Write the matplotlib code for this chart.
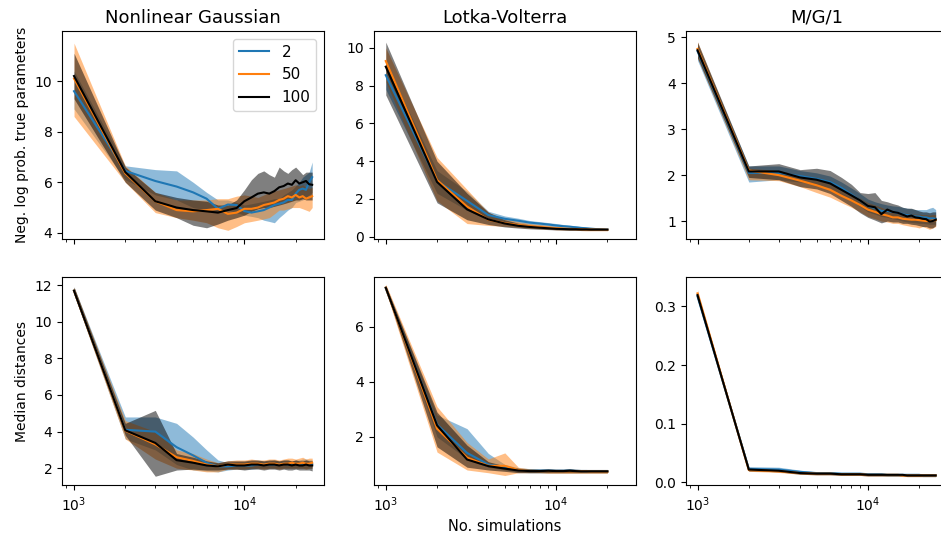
import numpy as np
import matplotlib
matplotlib.use('Agg')
import matplotlib.pyplot as plt

# number of simulations on the x axis
sims = list(range(1000, 26000, 1000))
sims_lv = list(range(1000, 21000, 1000))

labels = ['2', '50', '100']
colors = ['tab:blue', 'tab:orange', 'black']

# Nonlinear Gaussian, neg. log prob
ng_nlp_2 = [9.6, 6.45, 6.05, 5.83, 5.6, 5.35, 4.95, 5.12, 5.1, 4.86, 4.8, 4.85, 4.9, 5.0, 5.1, 5.15, 5.2, 5.3, 5.3, 5.55, 5.7, 5.75, 5.7, 6.0, 6.2]
ng_nlp_2_lo = [8.9, 6.1, 5.5, 5.3, 5.0, 4.9, 4.8, 4.9, 4.8, 4.7, 4.65, 4.6, 4.5, 4.45, 4.4, 4.6, 4.75, 4.9, 5.0, 5.2, 5.25, 5.3, 5.4, 5.5, 5.6]
ng_nlp_2_hi = [10.4, 6.65, 6.5, 6.45, 6.0, 5.6, 5.3, 5.3, 5.2, 5.1, 5.15, 5.2, 5.25, 5.3, 5.35, 5.35, 5.5, 5.6, 5.7, 5.85, 6.0, 6.2, 6.3, 6.4, 6.8]
ng_nlp_50 = [10.1, 6.35, 5.25, 4.9, 4.85, 4.9, 4.95, 4.75, 4.8, 4.95, 4.95, 5.0, 5.1, 5.15, 5.2, 5.3, 5.35, 5.45, 5.4, 5.5, 5.4, 5.45, 5.35, 5.4, 5.45]
ng_nlp_50_lo = [8.6, 6.0, 4.8, 4.6, 4.5, 4.4, 4.2, 4.1, 4.25, 4.4, 4.45, 4.5, 4.55, 4.6, 4.75, 4.9, 4.9, 4.95, 5.0, 5.0, 5.0, 4.95, 4.9, 4.85, 5.0]
ng_nlp_50_hi = [11.5, 6.65, 5.6, 5.3, 5.3, 5.3, 5.35, 5.35, 5.45, 5.5, 5.45, 5.4, 5.5, 5.6, 5.65, 5.7, 5.75, 5.8, 5.85, 5.9, 5.85, 5.9, 5.8, 5.75, 5.8]
ng_nlp_100 = [10.2, 6.4, 5.25, 5.0, 4.9, 4.85, 4.8, 4.9, 4.98, 5.25, 5.4, 5.55, 5.6, 5.55, 5.65, 5.8, 5.85, 5.95, 5.9, 6.08, 5.95, 6.0, 6.05, 5.92, 5.9]
ng_nlp_100_lo = [9.3, 6.0, 4.9, 4.6, 4.3, 4.2, 4.35, 4.5, 4.6, 4.7, 4.85, 4.95, 5.0, 5.0, 5.05, 5.1, 5.15, 5.2, 5.25, 5.3, 5.3, 5.35, 5.3, 5.3, 5.3]
ng_nlp_100_hi = [11.1, 6.6, 5.6, 5.4, 5.3, 5.25, 5.1, 5.1, 5.3, 5.7, 6.1, 6.35, 6.45, 6.3, 6.2, 6.6, 6.45, 6.35, 6.5, 6.6, 6.45, 6.3, 6.4, 6.4, 6.4]

# Lotka-Volterra, neg. log prob
lv_nlp_2 = [8.55, 2.95, 1.9, 1.15, 0.95, 0.85, 0.75, 0.7, 0.65, 0.6, 0.56, 0.53, 0.5, 0.47, 0.45, 0.43, 0.41, 0.4, 0.39, 0.38]
lv_nlp_2_lo = [7.8, 2.3, 1.4, 0.9, 0.8, 0.72, 0.65, 0.6, 0.56, 0.52, 0.48, 0.45, 0.43, 0.41, 0.39, 0.38, 0.36, 0.35, 0.34, 0.33]
lv_nlp_2_hi = [9.2, 3.5, 2.4, 1.35, 1.1, 0.98, 0.86, 0.8, 0.75, 0.7, 0.65, 0.62, 0.58, 0.54, 0.51, 0.48, 0.46, 0.45, 0.44, 0.43]
lv_nlp_50 = [9.3, 3.0, 1.6, 0.9, 0.72, 0.62, 0.56, 0.52, 0.48, 0.45, 0.43, 0.42, 0.41, 0.4, 0.39, 0.39, 0.38, 0.38, 0.38, 0.37]
lv_nlp_50_lo = [8.2, 1.9, 0.7, 0.6, 0.55, 0.5, 0.45, 0.42, 0.4, 0.37, 0.36, 0.35, 0.34, 0.33, 0.32, 0.32, 0.32, 0.32, 0.32, 0.32]
lv_nlp_50_hi = [10.0, 4.2, 2.5, 1.3, 0.95, 0.8, 0.7, 0.65, 0.6, 0.55, 0.52, 0.5, 0.48, 0.47, 0.46, 0.45, 0.44, 0.44, 0.43, 0.42]
lv_nlp_100 = [9.0, 2.9, 1.45, 0.92, 0.7, 0.58, 0.52, 0.48, 0.45, 0.42, 0.41, 0.4, 0.4, 0.39, 0.39, 0.38, 0.38, 0.38, 0.38, 0.38]
lv_nlp_100_lo = [7.5, 1.8, 0.9, 0.65, 0.52, 0.46, 0.42, 0.4, 0.38, 0.36, 0.35, 0.34, 0.34, 0.33, 0.33, 0.33, 0.33, 0.33, 0.33, 0.33]
lv_nlp_100_hi = [10.3, 4.0, 2.3, 1.3, 0.9, 0.72, 0.64, 0.58, 0.54, 0.5, 0.48, 0.46, 0.45, 0.45, 0.44, 0.44, 0.43, 0.43, 0.43, 0.43]

# M/G/1, neg. log prob
mg_nlp_2 = [4.7, 2.05, 2.05, 1.98, 1.92, 1.85, 1.72, 1.58, 1.45, 1.33, 1.28, 1.22, 1.22, 1.2, 1.18, 1.15, 1.13, 1.12, 1.1, 1.1, 1.08, 1.08, 1.06, 1.06, 1.05]
mg_nlp_2_lo = [4.5, 1.85, 1.9, 1.85, 1.8, 1.72, 1.58, 1.45, 1.32, 1.2, 1.15, 1.1, 1.08, 1.05, 1.03, 1.0, 0.98, 0.97, 0.96, 0.95, 0.95, 0.94, 0.93, 0.93, 0.93]
mg_nlp_2_hi = [4.85, 2.2, 2.2, 2.1, 2.05, 1.98, 1.85, 1.72, 1.6, 1.48, 1.42, 1.38, 1.35, 1.33, 1.32, 1.3, 1.28, 1.27, 1.25, 1.25, 1.25, 1.25, 1.28, 1.3, 1.25]
mg_nlp_50 = [4.75, 2.1, 2.0, 1.88, 1.78, 1.68, 1.55, 1.45, 1.35, 1.25, 1.2, 1.15, 1.12, 1.08, 1.08, 1.05, 1.04, 1.03, 1.03, 1.02, 1.01, 1.0, 1.0, 1.01, 1.02]
mg_nlp_50_lo = [4.55, 1.9, 1.88, 1.75, 1.62, 1.52, 1.4, 1.3, 1.2, 1.1, 1.05, 1.0, 0.98, 0.95, 0.95, 0.92, 0.9, 0.88, 0.87, 0.85, 0.88, 0.85, 0.82, 0.85, 0.88]
mg_nlp_50_hi = [4.9, 2.15, 2.1, 2.0, 1.92, 1.82, 1.7, 1.6, 1.5, 1.4, 1.35, 1.3, 1.25, 1.22, 1.2, 1.18, 1.17, 1.16, 1.15, 1.15, 1.14, 1.14, 1.13, 1.14, 1.14]
mg_nlp_100 = [4.72, 2.08, 2.08, 1.95, 1.9, 1.82, 1.68, 1.56, 1.45, 1.33, 1.3, 1.15, 1.25, 1.2, 1.18, 1.14, 1.1, 1.12, 1.08, 1.07, 1.05, 1.04, 0.99, 1.0, 1.03]
mg_nlp_100_lo = [4.55, 1.95, 1.9, 1.75, 1.7, 1.6, 1.45, 1.32, 1.18, 1.08, 1.02, 0.96, 1.0, 0.98, 0.98, 0.95, 0.95, 0.93, 0.92, 0.9, 0.88, 0.88, 0.85, 0.85, 0.9]
mg_nlp_100_hi = [4.9, 2.2, 2.25, 2.12, 2.15, 2.1, 1.95, 1.8, 1.62, 1.6, 1.62, 1.45, 1.42, 1.38, 1.35, 1.3, 1.28, 1.28, 1.25, 1.22, 1.2, 1.2, 1.18, 1.2, 1.2]

# Nonlinear Gaussian, median distances
ng_md_2 = [11.7, 4.1, 4.0, 3.15, 2.7, 2.3, 2.1, 2.1, 2.15, 2.15, 2.15, 2.2, 2.2, 2.2, 2.2, 2.2, 2.25, 2.2, 2.2, 2.25, 2.2, 2.2, 2.25, 2.2, 2.2]
ng_md_2_lo = [11.5, 3.6, 3.0, 2.2, 1.9, 1.85, 1.8, 1.9, 1.95, 1.95, 1.95, 2.0, 2.0, 2.0, 2.0, 2.0, 2.0, 2.0, 2.0, 2.0, 2.0, 2.0, 2.0, 2.0, 2.0]
ng_md_2_hi = [11.9, 4.8, 4.8, 4.45, 3.7, 3.0, 2.45, 2.3, 2.35, 2.35, 2.4, 2.4, 2.4, 2.4, 2.45, 2.4, 2.45, 2.45, 2.4, 2.45, 2.45, 2.5, 2.5, 2.45, 2.45]
ng_md_50 = [11.7, 4.05, 3.3, 2.6, 2.4, 2.2, 2.1, 2.2, 2.2, 2.2, 2.25, 2.25, 2.2, 2.25, 2.25, 2.2, 2.25, 2.25, 2.3, 2.25, 2.25, 2.3, 2.25, 2.25, 2.3]
ng_md_50_lo = [11.5, 3.6, 2.5, 2.0, 1.9, 1.8, 1.8, 1.95, 1.95, 1.95, 2.0, 2.0, 1.95, 2.0, 2.0, 1.95, 2.0, 2.0, 2.0, 2.0, 2.0, 2.0, 1.95, 2.0, 2.0]
ng_md_50_hi = [11.9, 4.6, 4.0, 3.0, 2.8, 2.5, 2.3, 2.4, 2.45, 2.45, 2.5, 2.45, 2.45, 2.5, 2.5, 2.45, 2.5, 2.55, 2.55, 2.5, 2.55, 2.6, 2.5, 2.55, 2.55]
ng_md_100 = [11.7, 4.07, 3.38, 2.44, 2.3, 2.15, 2.1, 2.2, 2.15, 2.15, 2.2, 2.2, 2.15, 2.2, 2.2, 2.15, 2.2, 2.2, 2.15, 2.2, 2.15, 2.15, 2.2, 2.15, 2.15]
ng_md_100_lo = [11.5, 3.8, 1.56, 1.9, 1.95, 1.9, 1.9, 1.95, 1.95, 1.9, 1.95, 1.95, 1.9, 1.95, 1.95, 1.9, 1.95, 1.9, 1.9, 1.95, 1.9, 1.9, 1.9, 1.9, 1.85]
ng_md_100_hi = [11.9, 4.45, 5.16, 2.8, 2.6, 2.4, 2.3, 2.4, 2.4, 2.4, 2.45, 2.45, 2.4, 2.45, 2.45, 2.4, 2.45, 2.45, 2.4, 2.45, 2.4, 2.4, 2.45, 2.4, 2.4]

# Lotka-Volterra, median distances
lv_md_2 = [7.4, 2.45, 1.42, 1.0, 0.9, 0.8, 0.78, 0.77, 0.77, 0.76, 0.76, 0.77, 0.76, 0.76, 0.75, 0.75, 0.75, 0.75, 0.75, 0.75]
lv_md_2_lo = [7.3, 2.0, 1.2, 0.9, 0.8, 0.72, 0.7, 0.7, 0.7, 0.7, 0.7, 0.7, 0.7, 0.7, 0.7, 0.7, 0.7, 0.7, 0.7, 0.7]
lv_md_2_hi = [7.5, 2.8, 2.3, 1.4, 1.0, 0.88, 0.85, 0.84, 0.85, 0.84, 0.84, 0.85, 0.83, 0.82, 0.82, 0.81, 0.81, 0.81, 0.8, 0.8]
lv_md_50 = [7.42, 2.3, 1.25, 0.95, 0.95, 0.8, 0.77, 0.76, 0.76, 0.75, 0.75, 0.75, 0.75, 0.75, 0.75, 0.74, 0.74, 0.74, 0.74, 0.74]
lv_md_50_lo = [7.3, 1.45, 0.8, 0.7, 0.6, 0.7, 0.7, 0.7, 0.68, 0.68, 0.68, 0.68, 0.68, 0.68, 0.68, 0.68, 0.68, 0.68, 0.68, 0.68]
lv_md_50_hi = [7.55, 3.1, 1.8, 1.2, 1.42, 0.9, 0.84, 0.82, 0.82, 0.82, 0.81, 0.81, 0.81, 0.8, 0.8, 0.8, 0.8, 0.8, 0.8, 0.8]
lv_md_100 = [7.42, 2.42, 1.18, 0.94, 0.85, 0.78, 0.76, 0.76, 0.77, 0.76, 0.76, 0.77, 0.76, 0.75, 0.75, 0.75, 0.75, 0.75, 0.75, 0.75]
lv_md_100_lo = [7.35, 1.64, 0.9, 0.8, 0.75, 0.7, 0.7, 0.7, 0.7, 0.7, 0.7, 0.7, 0.7, 0.7, 0.7, 0.7, 0.7, 0.7, 0.7, 0.7]
lv_md_100_hi = [7.5, 2.9, 1.7, 1.1, 0.95, 0.86, 0.83, 0.83, 0.84, 0.83, 0.83, 0.85, 0.83, 0.82, 0.82, 0.82, 0.82, 0.82, 0.82, 0.82]

# M/G/1, median distances
mg_md_2 = [0.317, 0.023, 0.022, 0.018, 0.016, 0.016, 0.015, 0.015, 0.015, 0.014, 0.014, 0.014, 0.013, 0.013, 0.013, 0.013, 0.013, 0.013, 0.013, 0.013, 0.012, 0.012, 0.012, 0.012, 0.012]
mg_md_2_lo = [0.312, 0.019, 0.019, 0.016, 0.014, 0.014, 0.013, 0.013, 0.013, 0.012, 0.012, 0.012, 0.011, 0.011, 0.011, 0.011, 0.011, 0.011, 0.011, 0.011, 0.010, 0.010, 0.010, 0.010, 0.010]
mg_md_2_hi = [0.322, 0.027, 0.026, 0.021, 0.018, 0.018, 0.017, 0.017, 0.017, 0.016, 0.016, 0.016, 0.015, 0.015, 0.015, 0.015, 0.015, 0.015, 0.015, 0.015, 0.014, 0.014, 0.014, 0.014, 0.014]
mg_md_50 = [0.322, 0.021, 0.019, 0.016, 0.015, 0.015, 0.014, 0.014, 0.014, 0.013, 0.013, 0.013, 0.013, 0.013, 0.013, 0.012, 0.012, 0.012, 0.012, 0.012, 0.012, 0.012, 0.012, 0.012, 0.012]
mg_md_50_lo = [0.316, 0.019, 0.017, 0.014, 0.013, 0.013, 0.012, 0.012, 0.012, 0.011, 0.011, 0.011, 0.011, 0.011, 0.011, 0.010, 0.010, 0.010, 0.010, 0.010, 0.010, 0.010, 0.010, 0.010, 0.010]
mg_md_50_hi = [0.328, 0.023, 0.021, 0.018, 0.017, 0.017, 0.016, 0.016, 0.016, 0.015, 0.015, 0.015, 0.015, 0.015, 0.015, 0.014, 0.014, 0.014, 0.014, 0.014, 0.014, 0.014, 0.014, 0.014, 0.014]
mg_md_100 = [0.319, 0.022, 0.020, 0.016, 0.015, 0.015, 0.014, 0.014, 0.014, 0.013, 0.013, 0.013, 0.013, 0.013, 0.013, 0.013, 0.012, 0.012, 0.012, 0.012, 0.012, 0.012, 0.012, 0.012, 0.012]
mg_md_100_lo = [0.314, 0.020, 0.018, 0.014, 0.013, 0.013, 0.012, 0.012, 0.012, 0.011, 0.011, 0.011, 0.011, 0.011, 0.011, 0.011, 0.010, 0.010, 0.010, 0.010, 0.010, 0.010, 0.010, 0.010, 0.010]
mg_md_100_hi = [0.324, 0.024, 0.022, 0.018, 0.017, 0.017, 0.016, 0.016, 0.016, 0.015, 0.015, 0.015, 0.015, 0.015, 0.015, 0.015, 0.014, 0.014, 0.014, 0.014, 0.014, 0.014, 0.014, 0.014, 0.014]

titles = ['Nonlinear Gaussian', 'Lotka-Volterra', 'M/G/1']

panels = [
    [(sims, [(ng_nlp_2, ng_nlp_2_lo, ng_nlp_2_hi), (ng_nlp_50, ng_nlp_50_lo, ng_nlp_50_hi), (ng_nlp_100, ng_nlp_100_lo, ng_nlp_100_hi)]),
     (sims_lv, [(lv_nlp_2, lv_nlp_2_lo, lv_nlp_2_hi), (lv_nlp_50, lv_nlp_50_lo, lv_nlp_50_hi), (lv_nlp_100, lv_nlp_100_lo, lv_nlp_100_hi)]),
     (sims, [(mg_nlp_2, mg_nlp_2_lo, mg_nlp_2_hi), (mg_nlp_50, mg_nlp_50_lo, mg_nlp_50_hi), (mg_nlp_100, mg_nlp_100_lo, mg_nlp_100_hi)])],
    [(sims, [(ng_md_2, ng_md_2_lo, ng_md_2_hi), (ng_md_50, ng_md_50_lo, ng_md_50_hi), (ng_md_100, ng_md_100_lo, ng_md_100_hi)]),
     (sims_lv, [(lv_md_2, lv_md_2_lo, lv_md_2_hi), (lv_md_50, lv_md_50_lo, lv_md_50_hi), (lv_md_100, lv_md_100_lo, lv_md_100_hi)]),
     (sims, [(mg_md_2, mg_md_2_lo, mg_md_2_hi), (mg_md_50, mg_md_50_lo, mg_md_50_hi), (mg_md_100, mg_md_100_lo, mg_md_100_hi)])],
]

ylims = [[(3.74, 11.98), (-0.14, 10.89), (0.6, 5.14)],
         [(1.06, 12.45), (0.24, 7.81), (-0.005, 0.35)]]

fig, axes = plt.subplots(2, 3, figsize=(9.41, 5.34), dpi=100, sharex=True)
plt.subplots_adjust(left=0.066, right=1.007, top=0.942, bottom=0.091, wspace=0.19, hspace=0.18)

for r in range(2):
    for c in range(3):
        ax = axes[r, c]
        x, series = panels[r][c]
        for (mean, lo, hi), col, lab in zip(series, colors, labels):
            ax.fill_between(x, lo, hi, color=col, alpha=0.5, linewidth=0)
            ax.plot(x, mean, color=col, lw=1.5, label=lab)
        ax.set_xscale('log')
        ax.set_ylim(*ylims[r][c])
        ax.tick_params(labelsize=10)
        if r == 0:
            ax.set_title(titles[c], fontsize=13)

axes[0, 0].legend(loc='upper right', fontsize=11)
axes[0, 0].set_ylabel('Neg. log prob. true parameters', fontsize=10)
axes[1, 0].set_ylabel('Median distances', fontsize=10)
axes[1, 1].set_xlabel('No. simulations', fontsize=10.5)

plt.savefig('out.png', dpi=100)
